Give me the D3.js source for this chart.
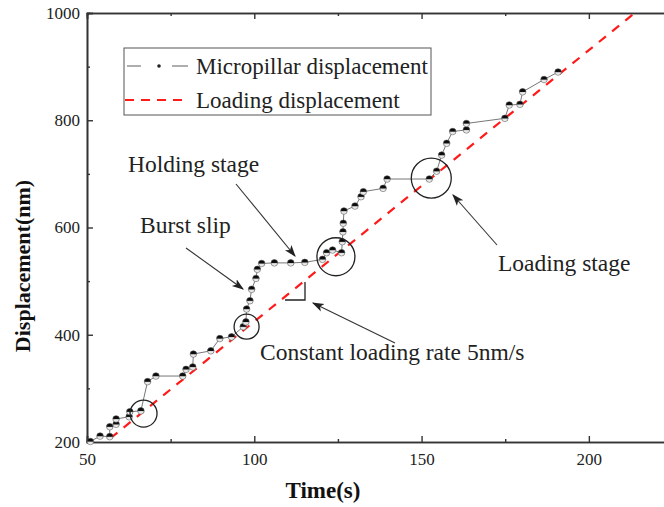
<!DOCTYPE html>
<html><head><meta charset="utf-8">
<script src="https://cdn.jsdelivr.net/npm/d3@7"></script>
<style>
html,body{margin:0;padding:0;background:#fff;}
svg text{font-family:"Liberation Serif","Times New Roman",serif;}
</style></head>
<body><svg id="c" width="664" height="507"></svg>
<script>
// ---- data ----
const pillarTime = [51, 53.9, 56.8, 56.8, 58.7, 58.7, 62.6, 62.8, 66.1, 68.1, 70.6, 78.6, 79.6, 81.6, 81.8, 87.0, 89.7, 93.2, 96.7, 97.5, 97.7, 98.7, 99.2, 100.5, 100.9, 102.2, 106.0, 110.9, 115.1, 120.4, 121.6, 123.4, 126.1, 126.3, 126.5, 126.6, 126.8, 130.1, 131.9, 132.6, 138.5, 139.7, 152.3, 154.5, 156.0, 157.5, 159.3, 163.4, 163.4, 174.9, 176.2, 179.4, 180.2, 186.6, 190.8];
const pillarDisp = [201, 211, 210, 228.5, 233, 243, 247, 256.5, 258, 312.5, 323, 323, 335.5, 340, 364, 370, 393, 396, 415, 424, 448, 463.5, 484.7, 505, 522, 533, 534, 534, 535, 540.6, 553, 558, 553, 573.5, 592, 608, 630.8, 640, 657.4, 666.8, 673, 690.4, 690.4, 705, 735, 757, 779, 782, 794, 803.6, 828.4, 829.7, 853, 876, 890];
const loadTime = [57, 213.7];
const loadDisp = [207, 1000];
const xTicks = [50, 100, 150, 200];
const xMinor = [75, 125, 175, 225];
const yTicks = [200, 400, 600, 800, 1000];
const yMinor = [300, 500, 700, 900];
const seriesNames = ["Micropillar displacement", "Loading displacement"];
// annotation circles: [time, disp, radius px]
const circleT = [66.9, 97.7, 124.4, 152.9];
const circleD = [253, 415, 545.5, 692];
const circleR = [13.5, 12.5, 19, 20];

// ---- layout ----
const svg = d3.select("#c");
const x = d3.scaleLinear().domain([50, 225]).range([87, 672.5]);
const y = d3.scaleLinear().domain([200, 1000]).range([442, 13]);
svg.append("rect").attr("width",664).attr("height",507).attr("fill","#fff");

const axisColor = "#333";
function styleAxis(g){
  g.select(".domain").attr("stroke",axisColor).attr("stroke-width",1.6);
  g.selectAll(".tick line").attr("stroke",axisColor).attr("stroke-width",1.4);
  g.selectAll("text").attr("font-size",17).attr("fill","#222").attr("font-family","Liberation Serif, serif");
}
// bottom
svg.append("g").attr("transform","translate(0,442)")
  .call(d3.axisBottom(x).tickValues(xTicks).tickSize(-6).tickPadding(11).tickFormat(d3.format("d"))).call(styleAxis);
svg.append("g").attr("transform","translate(0,442)")
  .call(d3.axisBottom(x).tickValues(xMinor).tickSize(-3).tickFormat("")).call(styleAxis);
// top
svg.append("g").attr("transform","translate(0,13)")
  .call(d3.axisTop(x).tickValues(xTicks).tickSize(-6).tickFormat("")).call(styleAxis);
svg.append("g").attr("transform","translate(0,13)")
  .call(d3.axisTop(x).tickValues(xMinor).tickSize(-3).tickFormat("")).call(styleAxis);
// left
svg.append("g").attr("transform","translate(87,0)")
  .call(d3.axisLeft(y).tickValues(yTicks).tickSize(-6).tickPadding(7).tickFormat(d3.format("d"))).call(styleAxis);
svg.append("g").attr("transform","translate(87,0)")
  .call(d3.axisLeft(y).tickValues(yMinor).tickSize(-3).tickFormat("")).call(styleAxis);

// axis titles
svg.append("text").attr("x",323).attr("y",498).attr("text-anchor","middle")
  .attr("font-size",23).attr("font-weight","bold").attr("fill","#111").text("Time(s)");
svg.append("text").attr("transform","translate(30,266) rotate(-90)").attr("text-anchor","middle")
  .attr("font-size",22).attr("font-weight","bold").attr("fill","#111").text("Displacement(nm)");

// gradient for points
const defs = svg.append("defs");
const gr = defs.append("linearGradient").attr("id","pt").attr("x1",0).attr("y1",0).attr("x2",0).attr("y2",1);
gr.append("stop").attr("offset","0%").attr("stop-color","#000");
gr.append("stop").attr("offset","45%").attr("stop-color","#111");
gr.append("stop").attr("offset","60%").attr("stop-color","#ddd");
gr.append("stop").attr("offset","100%").attr("stop-color","#fff");

// loading line
const loadData = loadTime.map((t,i)=>[t,loadDisp[i]]);
svg.append("path").datum(loadData)
  .attr("d", d3.line().x(d=>x(d[0])).y(d=>y(d[1])))
  .attr("fill","none").attr("stroke","#ff1a1a").attr("stroke-width",2.2).attr("stroke-dasharray","9,8");

// micropillar line
const pData = pillarTime.map((t,i)=>[t,pillarDisp[i]]);
svg.append("path").datum(pData)
  .attr("d", d3.line().x(d=>x(d[0])).y(d=>y(d[1])))
  .attr("fill","none").attr("stroke","#777").attr("stroke-width",1);
svg.append("g").selectAll("circle").data(pData).join("circle")
  .attr("cx",d=>x(d[0])).attr("cy",d=>y(d[1])).attr("r",3.3)
  .attr("fill","url(#pt)").attr("stroke","#555").attr("stroke-width",0.6);

// annotation circles
svg.append("g").selectAll("circle").data(circleT.map((t,i)=>[t,circleD[i],circleR[i]])).join("circle")
  .attr("cx",d=>x(d[0])).attr("cy",d=>y(d[1])).attr("r",d=>d[2])
  .attr("fill","none").attr("stroke","#222").attr("stroke-width",1.3);

// arrows
const mk = defs.append("marker").attr("id","ah").attr("viewBox","0 0 10 10").attr("refX",9).attr("refY",5)
  .attr("markerWidth",12).attr("markerHeight",12).attr("markerUnits","userSpaceOnUse").attr("orient","auto");
mk.append("path").attr("d","M0,1.5 L10,5 L0,8.5 L2.5,5 Z").attr("fill","#222");
const arrows = [[236,184,295,256],[186,248,243,289],[395,343,313,303],[497,245,453,195]];
arrows.forEach(a=>{
  svg.append("line").attr("x1",a[0]).attr("y1",a[1]).attr("x2",a[2]).attr("y2",a[3])
    .attr("stroke","#333").attr("stroke-width",1.1).attr("marker-end","url(#ah)");
});
// slope marker
svg.append("path").attr("d","M305,282 L305,300 L285,300").attr("fill","none").attr("stroke","#222").attr("stroke-width",1.3);

// annotation text
const ann = [["Holding stage",128,172],["Burst slip",140,233],["Constant loading rate 5nm/s",260,360],["Loading stage",498,271]];
ann.forEach(a=>{
  svg.append("text").attr("x",a[1]).attr("y",a[2]).attr("font-size",23.5).attr("fill","#222").text(a[0]);
});

// legend
const lg = svg.append("g");
lg.append("rect").attr("x",124).attr("y",48).attr("width",307).attr("height",67)
  .attr("fill","#fff").attr("stroke","#555").attr("stroke-width",1);
lg.append("line").attr("x1",127).attr("x2",141).attr("y1",66).attr("y2",66).attr("stroke","#777").attr("stroke-width",1.2);
lg.append("line").attr("x1",172).attr("x2",188).attr("y1",66).attr("y2",66).attr("stroke","#777").attr("stroke-width",1.2);
lg.append("circle").attr("cx",159).attr("cy",66).attr("r",1.8).attr("fill","#222");
lg.append("line").attr("x1",125).attr("x2",184).attr("y1",100).attr("y2",100)
  .attr("stroke","#ff1a1a").attr("stroke-width",2.2).attr("stroke-dasharray","9,7");
lg.append("text").attr("x",196).attr("y",74).attr("font-size",23).attr("fill","#222").text(seriesNames[0]);
lg.append("text").attr("x",196).attr("y",108).attr("font-size",23).attr("fill","#222").text(seriesNames[1]);
</script></body></html>
